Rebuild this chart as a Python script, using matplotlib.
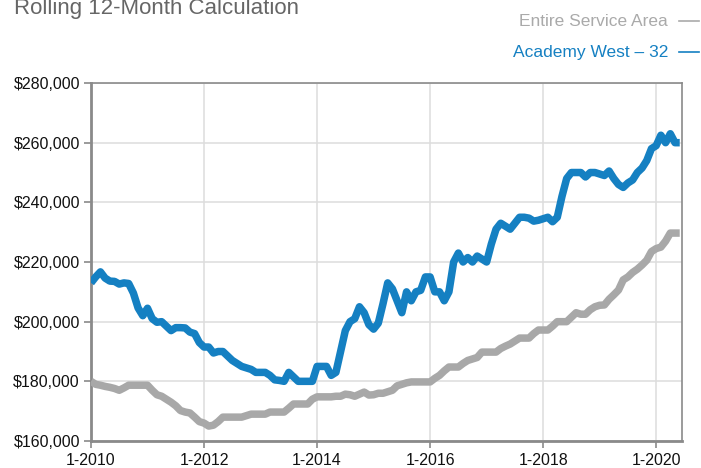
import numpy as np
import matplotlib
matplotlib.use("Agg")
import matplotlib.pyplot as plt
from matplotlib.lines import Line2D
from matplotlib.ticker import FuncFormatter

# monthly rolling 12-month values, Jan 2010 .. Jun 2020 (in $1000s)
academy_west = [
    213, 215, 216.7, 214.6, 213.6, 213.5, 212.6, 213, 212.8, 209.6, 204.6, 202,
    204.5, 201, 199.8, 200, 198.5, 197, 198, 198, 197.9, 196.5, 196, 193,
    191.5, 191.5, 189.5, 190, 190, 188.5, 187, 186, 185, 184.5, 184, 183,
    183, 183, 182, 180.5, 180.3, 180, 183, 181.5, 180, 180, 180, 180,
    185, 185, 185, 182, 183, 190, 197, 200, 201, 205, 203, 199,
    197.5, 199.5, 206, 213, 211, 207, 203, 210, 207, 210, 210.5, 215,
    215, 210, 210, 207, 210, 220, 223, 220, 221.5, 220, 222, 221,
    220, 226, 231, 233, 232, 231, 233, 235, 235, 234.7, 233.7, 234,
    234.5, 235, 233.5, 235, 242, 248, 250, 250, 250, 248.5, 250, 250,
    249.5, 249, 250.5, 248, 246, 245, 246.5, 247.5, 250, 251.5, 254, 258,
    259, 262.5, 260, 263, 260, 260,
]
service_area = [
    180, 179, 178.7, 178.3, 178, 177.6, 177, 177.8, 178.7, 178.7, 178.7, 178.7,
    178.7, 177, 175.5, 175, 174, 173, 171.8, 170.2, 169.7, 169.4, 168, 166.5,
    166, 165, 165.3, 166.5, 168, 168, 168, 168, 168, 168.5, 169, 169,
    169, 169, 169.7, 169.7, 169.7, 169.7, 171, 172.4, 172.4, 172.4, 172.4, 174,
    174.8, 174.8, 174.8, 174.8, 175, 175, 175.7, 175.5, 175, 175.7, 176.4, 175.4,
    175.5, 176, 176, 176.5, 177, 178.5, 179, 179.5, 179.8, 179.8, 179.8, 179.8,
    179.8, 181, 182, 183.5, 184.8, 184.8, 184.8, 186, 187, 187.5, 188, 189.8,
    189.8, 189.8, 189.8, 191, 191.8, 192.5, 193.5, 194.5, 194.5, 194.5, 196, 197.2,
    197.2, 197.2, 198.5, 200, 200, 200, 201.5, 203, 202.5, 202.5, 204, 205,
    205.5, 205.6, 207.5, 209, 210.6, 214, 215, 216.5, 217.6, 219, 220.6, 223.5,
    224.5, 225, 227, 229.7, 229.7, 229.7,
]
tick_labels = ["1-2010", "1-2012", "1-2014", "1-2016", "1-2018", "1-2020"]
y_ticks = [160000, 180000, 200000, 220000, 240000, 260000, 280000]

blue = "#1580c2"
gray = "#a8a8a8"

plt.rcParams['font.family'] = ['Liberation Sans', 'DejaVu Sans']

fig = plt.figure(figsize=(7.01, 4.68), dpi=100)
ax = fig.add_axes([0.1298, 0.0577, 0.973 - 0.1298, 0.8226 - 0.0577])

months = np.arange(len(academy_west))
ax.plot(months, np.array(service_area) * 1000, color=gray, lw=5.4,
        solid_joinstyle='round', solid_capstyle='butt', zorder=3)
ax.plot(months, np.array(academy_west) * 1000, color=blue, lw=5.4,
        solid_joinstyle='round', solid_capstyle='butt', zorder=4)

ax.set_xlim(0, 125.5)
ax.set_ylim(160000, 280000)
ax.set_xticks(np.arange(len(tick_labels)) * 24)
ax.set_xticklabels(tick_labels)
ax.set_yticks(y_ticks)
ax.yaxis.set_major_formatter(FuncFormatter(lambda v, p: "${:,.0f}".format(v)))
ax.tick_params(axis='both', labelsize=11.5, colors='#8a8a8a', labelcolor='#111111',
               length=5, width=1.2, direction='out')
ax.tick_params(axis='x', pad=4)
ax.tick_params(axis='y', pad=3)
ax.grid(True, color='#dddddd', lw=1.1, zorder=0)
ax.set_axisbelow(True)

for side in ['left', 'bottom']:
    ax.spines[side].set_color('#8a8a8a')
    ax.spines[side].set_linewidth(2)
for side in ['top', 'right']:
    ax.spines[side].set_color('#8a8a8a')
    ax.spines[side].set_linewidth(1.2)

# title sits partly above the top edge, as in the source image
fig.text(14 / 701, 1 - 14 / 468, "Rolling 12-Month Calculation", fontsize=16,
         color='#666666', ha='left', va='baseline')

# legend on the top right
fig.text(668 / 701, 1 - 21 / 468, "Entire Service Area", fontsize=12.5,
         color='#aaaaaa', ha='right', va='center')
fig.text(668 / 701, 1 - 52 / 468, "Academy West \u2013 32", fontsize=12.5,
         color=blue, ha='right', va='center')
fig.add_artist(Line2D([679 / 701, 699 / 701], [1 - 21 / 468, 1 - 21 / 468],
                      color='#aaaaaa', lw=1.2))
fig.add_artist(Line2D([679 / 701, 699 / 701], [1 - 52 / 468, 1 - 52 / 468],
                      color=blue, lw=1.2))

fig.savefig("out.png", dpi=100)
